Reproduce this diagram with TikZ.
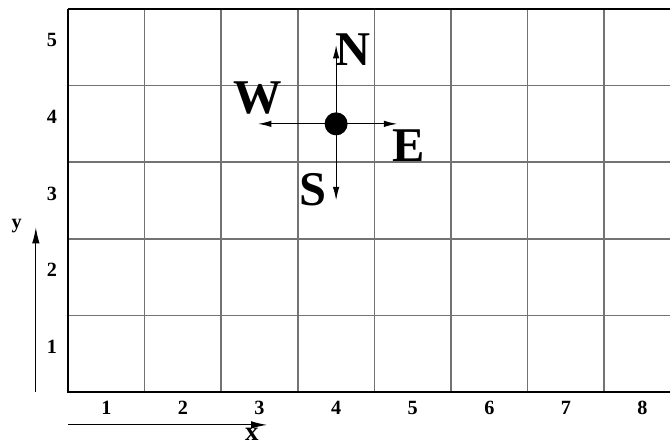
\documentclass[tikz,border=0pt]{standalone}
\usepackage{fontspec}
\setmainfont{Liberation Serif}
\usetikzlibrary{arrows.meta}

\begin{document}
\begin{tikzpicture}[
    every node/.style={font=\bfseries, align=center},
    cell/.style={draw=black!55, line width=0.6pt},
    rim/.style={draw=black, line width=0.5pt},
    num/.style={font=\bfseries\fontsize{7.5}{8}\selectfont, inner sep=1pt},
    dir/.style={font=\bfseries\fontsize{18}{18}\selectfont, inner sep=0pt},
    arr/.style={-{Latex[length=5pt,width=2.4pt]}, line width=0.45pt},
    axis/.style={-{Latex[length=6pt,width=2.8pt]}, line width=0.45pt}
]
\clip (-0.888,-0.653) rectangle (7.859,5.117);

% Grid
\draw[cell] (0,0) grid (8,5);
\draw[rim] (0,5) -- (0,0) -- (8,0);
\draw[rim] (0,5) -- (8,5);

% Column and row numbers
\foreach \i in {1,...,8}
  \node[num] (col\i) at (\i-0.5,-0.21) {\i};
\foreach \j in {1,...,5}
  \node[num] (row\j) at (-0.21,\j-0.41) {\j};

% Robot and moves
\node[circle, fill=black, inner sep=0pt, minimum size=0.3cm] (bot) at (3.5,3.5) {};
\coordinate (tipN) at (3.5,4.53);
\coordinate (tipS) at (3.5,2.5);
\coordinate (tipW) at (2.48,3.5);
\coordinate (tipE) at (4.3,3.5);
\draw[arr] (bot.center) -- (tipN);
\draw[arr] (bot.center) -- (tipS);
\draw[arr] (bot.center) -- (tipW);
\draw[arr] (bot.center) -- (tipE);
\node[dir] (lblN) at (3.72,4.47) {N};
\node[dir] (lblW) at (2.48,3.84) {W};
\node[dir] (lblE) at (4.45,3.22) {E};
\node[dir] (lblS) at (3.2,2.64) {S};

% Axes
\coordinate (yfoot) at (-0.42,0);
\coordinate (yhead) at (-0.42,2.15);
\draw[axis] (yfoot) -- (yhead);
\node[num] (ylbl) at (-0.67,2.16) {y};
\coordinate (xfoot) at (0,-0.43);
\coordinate (xhead) at (2.6,-0.43);
\draw[axis] (xfoot) -- (xhead);
\node[num, font=\bfseries\fontsize{10}{10}\selectfont] (xlbl) at (2.4,-0.55) {x};
\end{tikzpicture}
\end{document}
